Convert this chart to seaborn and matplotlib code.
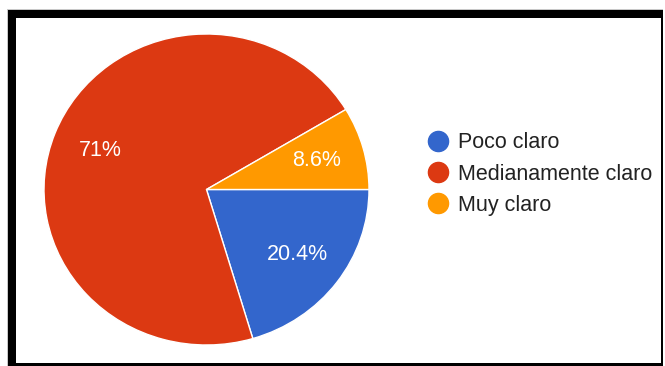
import matplotlib
matplotlib.use("Agg")
import matplotlib.pyplot as plt
import seaborn as sns
from matplotlib.lines import Line2D
from matplotlib.patches import Rectangle

categories = ["Poco claro", "Medianamente claro", "Muy claro"]
values = [20.4, 71.0, 8.6]
colors = ["#3366CC", "#DC3912", "#FF9900"]

sns.set_theme(style="white")
plt.rcParams["font.family"] = ["Liberation Sans", "DejaVu Sans"]

W, H = 665, 366
fig = plt.figure(figsize=(W / 100, H / 100), dpi=100)
fig.patch.set_facecolor("white")

# pie area (stretched horizontally)
px_l, px_r, px_t, px_b = 44, 369, 34, 345
ax = fig.add_axes([px_l / W, (H - px_b) / H, (px_r - px_l) / W, (px_b - px_t) / H])

wedges, texts, autotexts = ax.pie(
    values,
    colors=colors,
    startangle=0,
    counterclock=False,
    autopct=lambda p: f"{round(p, 1):g}%",
    pctdistance=0.70,
    wedgeprops=dict(edgecolor="white", linewidth=1.0),
    textprops=dict(color="white", fontsize=15.5),
)
ax.set_aspect("auto")
ax.set_xlim(-1, 1)
ax.set_ylim(-1, 1)
ax.axis("off")

handles = [
    Line2D([], [], linestyle="none", marker="o", markersize=14.5,
           markerfacecolor=c, markeredgecolor=c)
    for c in colors
]
leg = fig.legend(
    handles, categories,
    loc="center left",
    bbox_to_anchor=(427 / W, 1 - 174 / H),
    frameon=False,
    fontsize=15.5,
    handlelength=1.0,
    handletextpad=0.46,
    labelspacing=0.48,
    borderaxespad=0,
    borderpad=0,
)
for t in leg.get_texts():
    t.set_color("#222222")


def px_rect(x0, y0, x1, y1, color):
    fig.add_artist(Rectangle((x0 / W, 1 - y1 / H), (x1 - x0) / W, (y1 - y0) / H,
                             transform=fig.transFigure, facecolor=color,
                             edgecolor="none", zorder=10))


# frame around the chart
px_rect(7, 9, 663, 10, "#c8c8c8")
px_rect(7, 9, 8, 366, "#c8c8c8")
px_rect(8, 10, 663, 18, "black")
px_rect(8, 10, 16, 366, "black")
px_rect(8, 363, 663, 366, "black")
px_rect(661, 10, 663, 366, "black")

fig.savefig("out.png", dpi=100, facecolor="white")
